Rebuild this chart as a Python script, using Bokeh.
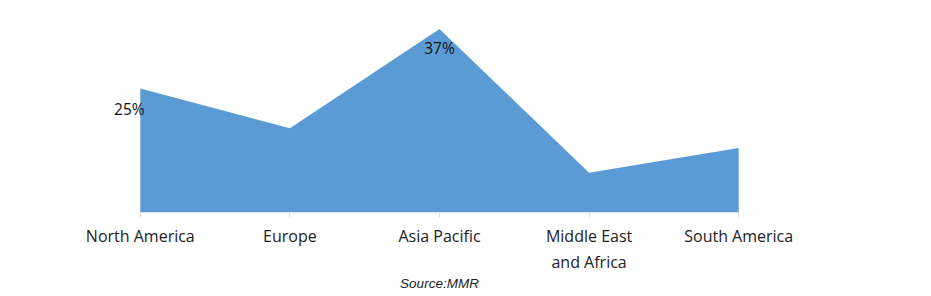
from bokeh.plotting import figure
from bokeh.models import FixedTicker, Range1d
from bokeh.core.properties import value
from bokeh.embed import file_html
from bokeh.resources import INLINE

categories = ["North America", "Europe", "Asia Pacific", "Middle East\nand Africa", "South America"]
shares = [25, 17, 37, 8, 13]
labelled = ["25%", "", "37%", "", ""]

FONT = "Open Sans"
xs = list(range(len(categories)))

p = figure(width=931, height=296, output_backend="svg", toolbar_location=None,
           x_range=Range1d(-0.5, 4.5), y_range=Range1d(0, 42.74),
           min_border_left=65, min_border_right=118, min_border_top=0, min_border_bottom=84)
p.outline_line_color = None
p.background_fill_color = "white"
p.border_fill_color = "white"
p.grid.visible = False
p.yaxis.visible = False

p.varea(x=xs, y1=[0] * len(xs), y2=shares, fill_color="#5b9bd5")
p.segment(x0=[xs[0]], y0=[0], x1=[xs[-1]], y1=[0], line_color="#d9d9d9", line_width=1)

ax = p.xaxis[0]
ax.ticker = FixedTicker(ticks=xs)
ax.major_label_overrides = {i: c for i, c in enumerate(categories)}
ax.axis_line_color = None
ax.major_tick_line_color = "#d9d9d9"
ax.major_tick_in = 0
ax.major_tick_out = 5
ax.minor_tick_line_color = None
ax.major_label_text_font = FONT
ax.major_label_text_font_size = "16px"
ax.major_label_text_color = "#222222"
ax.major_label_standoff = 7
ax.axis_label = "Source:MMR"
ax.axis_label_text_font = "Liberation Sans"
ax.axis_label_text_font_style = "italic"
ax.axis_label_text_font_size = "13.5px"
ax.axis_label_text_color = "#222222"
ax.axis_label_standoff = 0

# data labels
offsets = {0: (-11, 21), 2: (0, 19)}
for i, t in enumerate(labelled):
    if not t:
        continue
    dx, dy = offsets[i]
    p.text(x=[xs[i]], y=[shares[i]], text=[t], text_font=value(FONT), text_font_size="15.5px",
           text_color="#111111", text_align="center", text_baseline="middle",
           x_offset=dx, y_offset=dy)

open("out.html", "w").write(file_html(p, INLINE))
